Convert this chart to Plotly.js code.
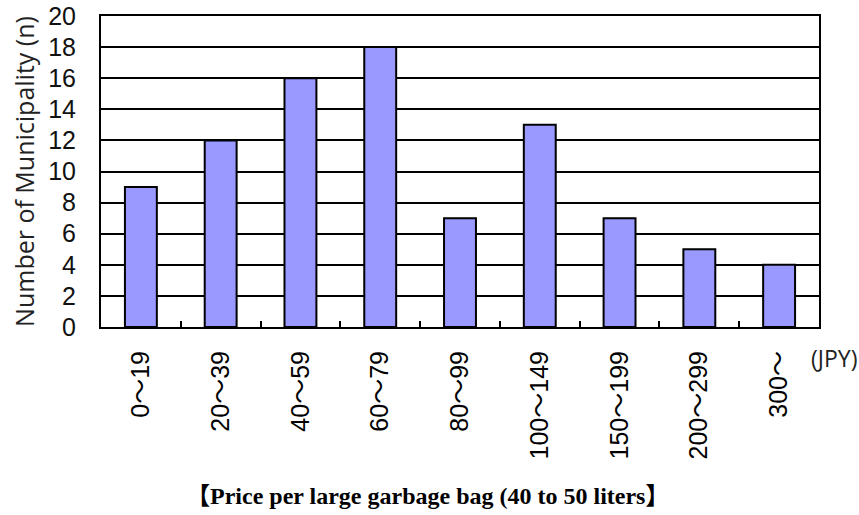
<!DOCTYPE html>
<html>
<head>
<meta charset="utf-8">
<script src="https://cdn.plot.ly/plotly-3.0.1.min.js"></script>
<style>
  html, body { margin: 0; padding: 0; background: #fff; }
  #chart { width: 859px; height: 515px; }
</style>
</head>
<body>
<div id="chart"></div>
<script>
// Price bands (JPY) for a large garbage bag and the number of municipalities in each
const priceBands = ["0～19", "20～39", "40～59", "60～79", "80～99", "100～149", "150～199", "200～299", "300～"];
const municipalityCounts = [9, 12, 16, 18, 7, 13, 7, 5, 4];
const yTicks = [0, 2, 4, 6, 8, 10, 12, 14, 16, 18, 20];

const trace = {
  type: "bar",
  x: priceBands,
  y: municipalityCounts,
  width: 0.4,
  marker: { color: "#9999ff", line: { color: "#000", width: 2 } },
  hoverinfo: "x+y"
};

const labelFont = "Liberation Sans, Arial, Noto Sans CJK JP, sans-serif";

const layout = {
  width: 859,
  height: 515,
  margin: { l: 101, r: 40, t: 16, b: 188 },
  paper_bgcolor: "#fff",
  plot_bgcolor: "#fff",
  showlegend: false,
  xaxis: {
    type: "category",
    showline: true, linecolor: "#000", linewidth: 2, mirror: true,
    showgrid: false,
    ticks: "inside", tickson: "boundaries", ticklen: 6, tickwidth: 2, tickcolor: "#000",
    tickangle: -90,
    ticklabelstandoff: 12,
    tickfont: { family: labelFont, size: 25, color: "#000" }
  },
  yaxis: {
    range: [0, 20],
    tickvals: yTicks,
    ticktext: yTicks.map(String),
    showline: true, linecolor: "#000", linewidth: 2, mirror: true,
    showgrid: true, gridcolor: "#000", gridwidth: 2,
    zeroline: false,
    ticks: "", ticklabelstandoff: 18,
    tickfont: { family: labelFont, size: 25, color: "#111" },
    title: {
      text: "Number of Municipality (n)",
      font: { family: "Open Sans, Noto Sans, sans-serif", size: 25, color: "#222" },
      standoff: 6
    }
  },
  annotations: [
    {
      text: "(JPY)", xref: "paper", yref: "paper", x: 1.0, y: -0.10,
      xanchor: "left", yanchor: "middle", xshift: -10, showarrow: false,
      font: { family: "Open Sans, Noto Sans, sans-serif", size: 23, color: "#222" }
    },
    {
      text: "<b>【Price per large garbage bag (40 to 50 liters】</b>",
      xref: "paper", yref: "paper", x: 0.455, y: -0.545,
      xanchor: "center", yanchor: "middle", showarrow: false,
      font: { family: "Liberation Serif, Times New Roman, Noto Sans CJK JP, serif", size: 24, color: "#000" }
    }
  ]
};

Plotly.newPlot("chart", [trace], layout, { displayModeBar: false, staticPlot: true });
</script>
</body>
</html>
